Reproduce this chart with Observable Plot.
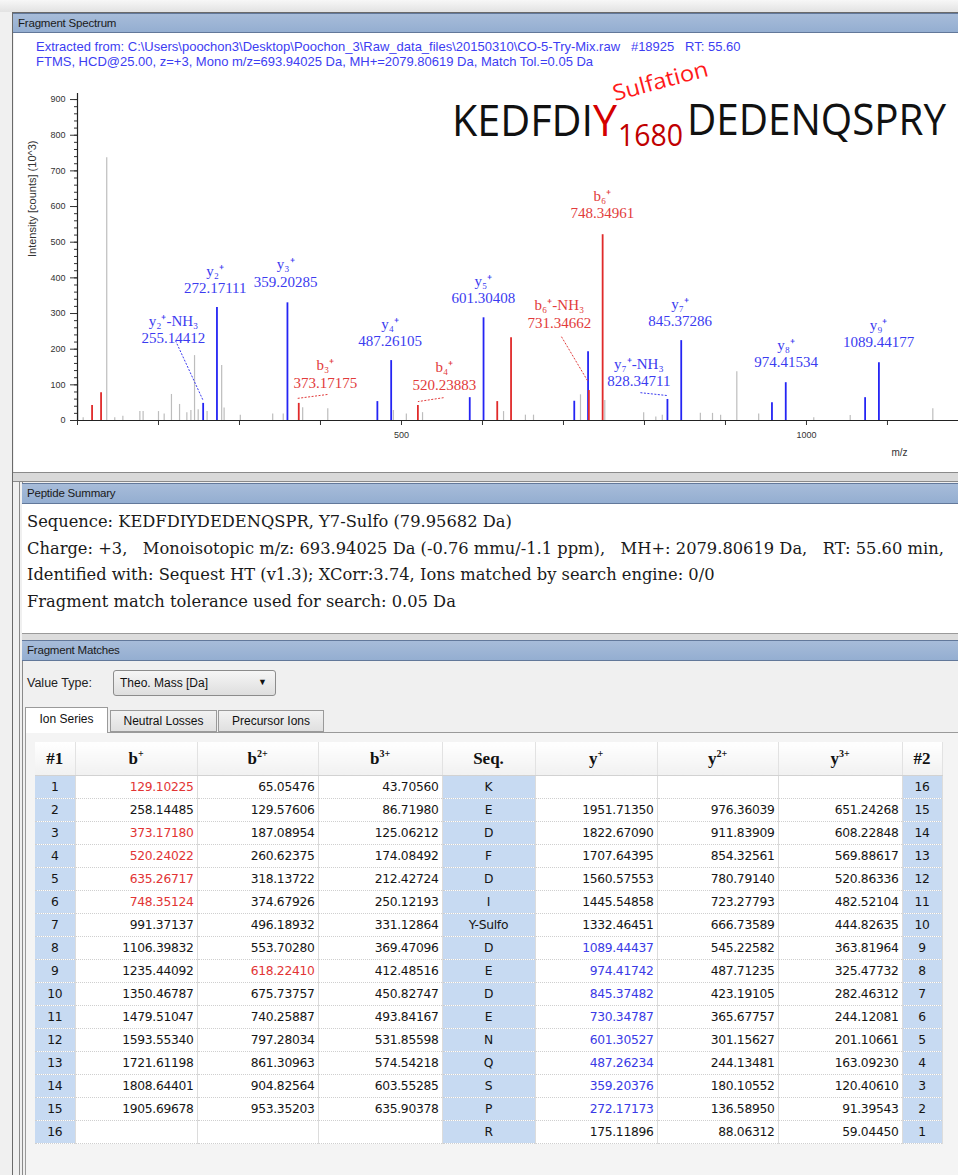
<!DOCTYPE html>
<html><head><meta charset="utf-8">
<script src="https://cdn.jsdelivr.net/npm/d3@7"></script>
<script src="https://cdn.jsdelivr.net/npm/@observablehq/plot@0.6"></script>
<style>
body{margin:0;width:958px;height:1175px;position:relative;overflow:hidden;background:#f0f0f0;font-family:"Liberation Sans",Arial,sans-serif;}
.abs{position:absolute;}
.hdr{position:absolute;background:linear-gradient(#a7bcd9,#94aed1);border-top:1px solid #62789a;border-bottom:1px solid #62789a;font-size:11.5px;color:#1a1a1a;line-height:18px;padding-left:5px;box-sizing:border-box;letter-spacing:-0.2px}
.info{position:absolute;left:36px;color:#3d3df2;font-size:13px;white-space:pre}
.sum{position:absolute;left:27px;font-family:"DejaVu Serif",serif;font-size:16.3px;color:#1a1a1a;white-space:nowrap}
table{border-collapse:collapse;table-layout:fixed;position:absolute;left:35px;top:742px;background:#fff}
td,th{padding:0;overflow:hidden;white-space:nowrap}
th{height:33px;font-family:"Liberation Serif",serif;font-weight:bold;font-size:17px;background:linear-gradient(#ffffff,#f1f1f1);border-right:1px solid #e2e2e2;border-bottom:1px solid #d2d2d2;color:#111}
th sup{font-size:10px}
td{height:22px;font-family:"DejaVu Sans",sans-serif;font-size:12.3px;color:#151515;border-right:1px solid #dcdcdc;border-bottom:1px dotted #cfcfcf;text-align:right;padding-right:3px;letter-spacing:-0.3px}
td.idx{background:#c7daf2;text-align:center;padding-right:0}
td.seq{background:#c7daf2;text-align:center;padding-right:0}
.red{color:#e23434}
.blue{color:#3a3ae6}
</style></head>
<body>
<script>
// ---------- spectrum data ----------
const grayMz  = [100.5,107,136.1,146,156,177,181,200,207,216,226,235,240,244.5,249,260,278,281,301,341,354,378,409,490,506,526,626,653,663,721,751,799,814,822,869,884,894,914,941,1009,1054,1156];
const grayInt = [112,8,737,8,12,25,25,25,18,73,45,22,28,182,30,25,154,35,15,18,18,36,33,28,18,22,25,15,15,72,56,22,10,15,20,20,15,137,18,8,14,33];
const bIonMz  = [118,129.10,373.17,520.24,618.22,635.27,731.35,748.35];
const bIonInt = [42,78,48,42,53,232,84,521];
const yIonMz  = [255.14,272.17,359.20,470.23,487.26,584.28,601.30,713.32,730.35,828.35,845.37,957.39,974.42,1072.41,1089.44];
const yIonInt = [48,317,330,53,168,64,288,54,193,59,224,50,106,64,162];

// ---------- annotations ----------
const annName   = ["y₂⁺-NH₃","y₂⁺","y₃⁺","b₃⁺","y₄⁺","b₄⁺","y₅⁺","b₆⁺-NH₃","b₆⁺","y₇⁺-NH₃","y₇⁺","y₈⁺","y₉⁺"];
const annValue  = ["255.14412","272.17111","359.20285","373.17175","487.26105","520.23883","601.30408","731.34662","748.34961","828.34711","845.37286","974.41534","1089.44177"];
const annSeries = ["y","y","y","b","y","b","y","b","b","y","y","y","y"];
const annLabelMz  = [218.5,270,357,406,486,553,601,695,748,793,844,975,1089];
const annLabelInt = [256.5,396.5,415,132,248,126,368.5,300,607,136,304,189.5,246.5];

const leaderSeries  = ["y","b","b","b","y"];
const leaderFromMz  = [221,408.6,552,697.5,795];
const leaderFromInt = [224,73,64,235,78];
const leaderToMz    = [255.14,371.6,520.24,729.6,828];
const leaderToInt   = [56,62,53,112,70];

const yTicks = d3.range(0, 901, 100);
const yMinor = d3.range(0, 917, 20);
const xTicks = d3.range(100, 1200, 100);

// ---------- peptide / table data ----------
const infoLines = [
  "Extracted from: C:\\Users\\poochon3\\Desktop\\Poochon_3\\Raw_data_files\\20150310\\CO-5-Try-Mix.raw   #18925   RT: 55.60",
  "FTMS, HCD@25.00, z=+3, Mono m/z=693.94025 Da, MH+=2079.80619 Da, Match Tol.=0.05 Da"
];
const summaryLines = [
  "Sequence: KEDFDIYDEDENQSPR, Y7-Sulfo (79.95682 Da)",
  "Charge: +3,\u00a0\u00a0\u00a0Monoisotopic m/z: 693.94025 Da (-0.76 mmu/-1.1 ppm),\u00a0\u00a0\u00a0MH+: 2079.80619 Da,\u00a0\u00a0\u00a0RT: 55.60 min,",
  "Identified with: Sequest HT (v1.3); XCorr:3.74, Ions matched by search engine: 0/0",
  "Fragment match tolerance used for search: 0.05 Da"
];
const seq = ["K","E","D","F","D","I","Y-Sulfo","D","E","D","E","N","Q","S","P","R"];
const bPlus = ["129.10225","258.14485","373.17180","520.24022","635.26717","748.35124","991.37137","1106.39832","1235.44092","1350.46787","1479.51047","1593.55340","1721.61198","1808.64401","1905.69678",""];
const b2Plus = ["65.05476","129.57606","187.08954","260.62375","318.13722","374.67926","496.18932","553.70280","618.22410","675.73757","740.25887","797.28034","861.30963","904.82564","953.35203",""];
const b3Plus = ["43.70560","86.71980","125.06212","174.08492","212.42724","250.12193","331.12864","369.47096","412.48516","450.82747","493.84167","531.85598","574.54218","603.55285","635.90378",""];
const yPlus = ["","1951.71350","1822.67090","1707.64395","1560.57553","1445.54858","1332.46451","1089.44437","974.41742","845.37482","730.34787","601.30527","487.26234","359.20376","272.17173","175.11896"];
const y2Plus = ["","976.36039","911.83909","854.32561","780.79140","723.27793","666.73589","545.22582","487.71235","423.19105","365.67757","301.15627","244.13481","180.10552","136.58950","88.06312"];
const y3Plus = ["","651.24268","608.22848","569.88617","520.86336","482.52104","444.82635","363.81964","325.47732","282.46312","244.12081","201.10661","163.09230","120.40610","91.39543","59.04450"];
const bPlusMatched = [1,3,4,5,6];
const b2PlusMatched = [9];
const yPlusMatched = [8,9,10,11,12,13,14,15];

// ---------- page chrome ----------
const body = d3.select("body");
body.append("div").attr("class","abs").style("left","0px").style("top","0px").style("width","958px").style("height","12px").style("background","linear-gradient(#f7f7f7,#e2e2e2)");
body.append("div").attr("class","abs").style("left","12px").style("top","12px").style("width","946px").style("height","1163px").style("border-left","1px solid #6a6a6a").style("border-top","1px solid #6a6a6a").style("background","#f0f0f0");
body.append("div").attr("class","hdr").style("left","13px").style("top","13px").style("width","945px").style("height","20px").text("Fragment Spectrum");
body.append("div").attr("class","abs").style("left","13px").style("top","472px").style("width","945px").style("height","8px").style("background","#d9d9d9").style("border-top","1px solid #8a8a8a").style("border-bottom","1px solid #8a8a8a");
body.append("div").attr("class","abs").style("left","19px").style("top","481px").style("width","2px").style("height","694px").style("border-left","1px solid #8a8a8a").style("border-right","1px solid #8a8a8a");

// ---------- spectrum plot ----------
const grayData = grayMz.map((m,i)=>({mz:m,int:grayInt[i]}));
const bData = bIonMz.map((m,i)=>({mz:m,int:bIonInt[i]}));
const yData = yIonMz.map((m,i)=>({mz:m,int:yIonInt[i]}));
const ann = annName.map((n,i)=>({name:n,value:annValue[i],series:annSeries[i],lx:annLabelMz[i],ly:annLabelInt[i]}));
const leaders = leaderSeries.map((s,i)=>({series:s,x1:leaderFromMz[i],y1:leaderFromInt[i],x2:leaderToMz[i],y2:leaderToInt[i]}));
const RED="#e02a2a", BLUE="#2424f4", RED_T="#e23b3b", BLUE_T="#3b3bf0";

const chart = Plot.plot({
  width: 944, height: 439,
  marginLeft: 63, marginRight: 0, marginTop: 60, marginBottom: 52,
  x: {domain: [100, 1187.7]},
  y: {domain: [0, 917]},
  style: {background: "white", fontFamily: "Liberation Sans, Arial, sans-serif", color: "#333"},
  marks: [
    Plot.ruleX(grayData, {x: "mz", y1: 0, y2: "int", stroke: "#bdbdbd", strokeWidth: 1.2}),
    Plot.ruleX(yData, {x: "mz", y1: 0, y2: "int", stroke: BLUE, strokeWidth: 1.8}),
    Plot.ruleX(bData, {x: "mz", y1: 0, y2: "int", stroke: RED, strokeWidth: 1.8}),
    Plot.link(leaders.filter(d=>d.series==="y"), {x1:"x1",y1:"y1",x2:"x2",y2:"y2",stroke: BLUE_T, strokeWidth: 1, strokeDasharray: "2,1.5"}),
    Plot.link(leaders.filter(d=>d.series==="b"), {x1:"x1",y1:"y1",x2:"x2",y2:"y2",stroke: RED_T, strokeWidth: 1, strokeDasharray: "2,1.5"}),
    Plot.text(ann.filter(d=>d.series==="y"), {x:"lx", y:"ly", text: d=>d.name+"\n"+d.value, fill: BLUE_T, fontFamily: "Liberation Serif, serif", fontSize: 15, lineHeight: 1.15}),
    Plot.text(ann.filter(d=>d.series==="b"), {x:"lx", y:"ly", text: d=>d.name+"\n"+d.value, fill: RED_T, fontFamily: "Liberation Serif, serif", fontSize: 15, lineHeight: 1.15}),
    Plot.axisY({ticks: yMinor, tickSize: 3, tickFormat: () => "", label: null, stroke: "#333"}),
    Plot.axisY({ticks: yTicks, tickSize: 7, tickPadding: 5, fontSize: 9, label: null, stroke: "#333", fill: "#333"}),
    Plot.axisX({ticks: xTicks, tickFormat: d => d % 500 === 0 ? String(d) : "", tickSize: 5, tickPadding: 6, fontSize: 9, label: null, stroke: "#333", fill: "#333"}),
    Plot.ruleX([100], {stroke: "#222", strokeWidth: 1.2}),
    Plot.ruleY([0], {stroke: "#222", strokeWidth: 1.2}),
    Plot.text(["Intensity [counts] (10^3)"], {frameAnchor: "left", text: d=>d, rotate: -90, dx: -45, fontSize: 11, fill: "#333"}),
    Plot.text(["m/z"], {frameAnchor: "bottom-right", text: d=>d, dx: -51, dy: 35, fontSize: 10, fill: "#333"})
  ]
});
const holder = body.append("div").attr("class","abs").style("left","14px").style("top","33px");
holder.node().appendChild(chart);

// peptide title drawn into the same svg
const svg = d3.select(chart);
const tfont = "Open Sans, Noto Sans, sans-serif";
function t(str, x, y, size, len, fill, rot){
  const e = svg.append("text").attr("x",x).attr("y",y).attr("text-anchor","start").attr("font-family",tfont).attr("font-size",size)
    .attr("fill",fill).attr("textLength",len).attr("lengthAdjust","spacingAndGlyphs").text(str);
  if (rot) e.attr("transform",`rotate(${rot},${x},${y})`);
}
t("KEDFDI", 438, 103, 44, 141, "#111");
t("Y", 579, 103, 44, 24, "#d40000");
t("1680", 604, 113, 31, 65, "#c00000");
t("DEDENQSPRY", 673, 102, 43, 259, "#111");
t("Sulfation", 601, 68, 22, 98, "#ff1a1a", -15);

// info lines
infoLines.forEach((s,i)=>body.append("div").attr("class","info").style("top",(39+i*15)+"px").text(s));

// ---------- peptide summary ----------
body.append("div").attr("class","hdr").style("left","22px").style("top","483px").style("width","936px").style("height","21px").text("Peptide Summary");
body.append("div").attr("class","abs").style("left","22px").style("top","504px").style("width","936px").style("height","129px").style("background","#fff");
summaryLines.forEach((s,i)=>body.append("div").attr("class","sum").style("top",(512+i*26.5)+"px").text(s));
body.append("div").attr("class","abs").style("left","22px").style("top","633px").style("width","936px").style("height","6px").style("background","#dcdcdc").style("border-top","1px solid #9a9a9a");

// ---------- fragment matches ----------
body.append("div").attr("class","hdr").style("left","22px").style("top","640px").style("width","936px").style("height","21px").text("Fragment Matches");
body.append("div").attr("class","abs").style("left","27px").style("top","676px").style("font-size","12.5px").style("color","#222").text("Value Type:");
const dd = body.append("div").attr("class","abs").style("left","113px").style("top","670px").style("width","163px").style("height","26px")
  .style("border","1px solid #8c8c8c").style("border-radius","3px").style("background","linear-gradient(#f6f6f6,#dedede)").style("box-sizing","border-box");
dd.append("div").attr("class","abs").style("left","6px").style("top","5px").style("font-size","12px").style("color","#111").text("Theo. Mass [Da]");
dd.append("div").attr("class","abs").style("left","144px").style("top","6px").style("font-size","9px").style("color","#111").text("▼");
const tabs = [["Ion Series",25,83,true],["Neutral Losses",110,107,false],["Precursor Ions",218,106,false]];
body.append("div").attr("class","abs").style("left","25px").style("top","732px").style("width","933px").style("height","443px").style("border-top","1px solid #9a9a9a").style("border-left","1px solid #9a9a9a").style("background","#f4f4f4");
tabs.forEach(([s,x,w,act])=>{
  body.append("div").attr("class","abs").style("left",x+"px").style("top",(act?707:710)+"px").style("width",w+"px").style("height",(act?26:22)+"px")
    .style("border","1px solid #9a9a9a").style("border-bottom",act?"none":"1px solid #9a9a9a").style("background",act?"#fff":"linear-gradient(#f2f2f2,#e0e0e0)")
    .style("box-sizing","border-box").style("font-size","12px").style("color","#111").style("text-align","center").style("line-height",(act?22:20)+"px").text(s);
});

// table
const widths = [40,122,121,124,93,122,121,124,40];
const tbl = body.append("table").style("width",d3.sum(widths)+"px");
const cg = tbl.append("colgroup");
widths.forEach(w=>cg.append("col").style("width",w+"px"));
const hr = tbl.append("tr");
const heads = ["#1","b<sup>+</sup>","b<sup>2+</sup>","b<sup>3+</sup>","Seq.","y<sup>+</sup>","y<sup>2+</sup>","y<sup>3+</sup>","#2"];
heads.forEach(h=>hr.append("th").html(h));
seq.forEach((s,i)=>{
  const r = i+1;
  const tr = tbl.append("tr");
  tr.append("td").attr("class","idx").text(r);
  tr.append("td").attr("class", bPlusMatched.includes(r)?"red":null).text(bPlus[i]);
  tr.append("td").attr("class", b2PlusMatched.includes(r)?"red":null).text(b2Plus[i]);
  tr.append("td").text(b3Plus[i]);
  tr.append("td").attr("class","seq").text(s);
  tr.append("td").attr("class", yPlusMatched.includes(r)?"blue":null).text(yPlus[i]);
  tr.append("td").text(y2Plus[i]);
  tr.append("td").text(y3Plus[i]);
  tr.append("td").attr("class","idx").text(seq.length - i);
});
</script>
</body></html>
